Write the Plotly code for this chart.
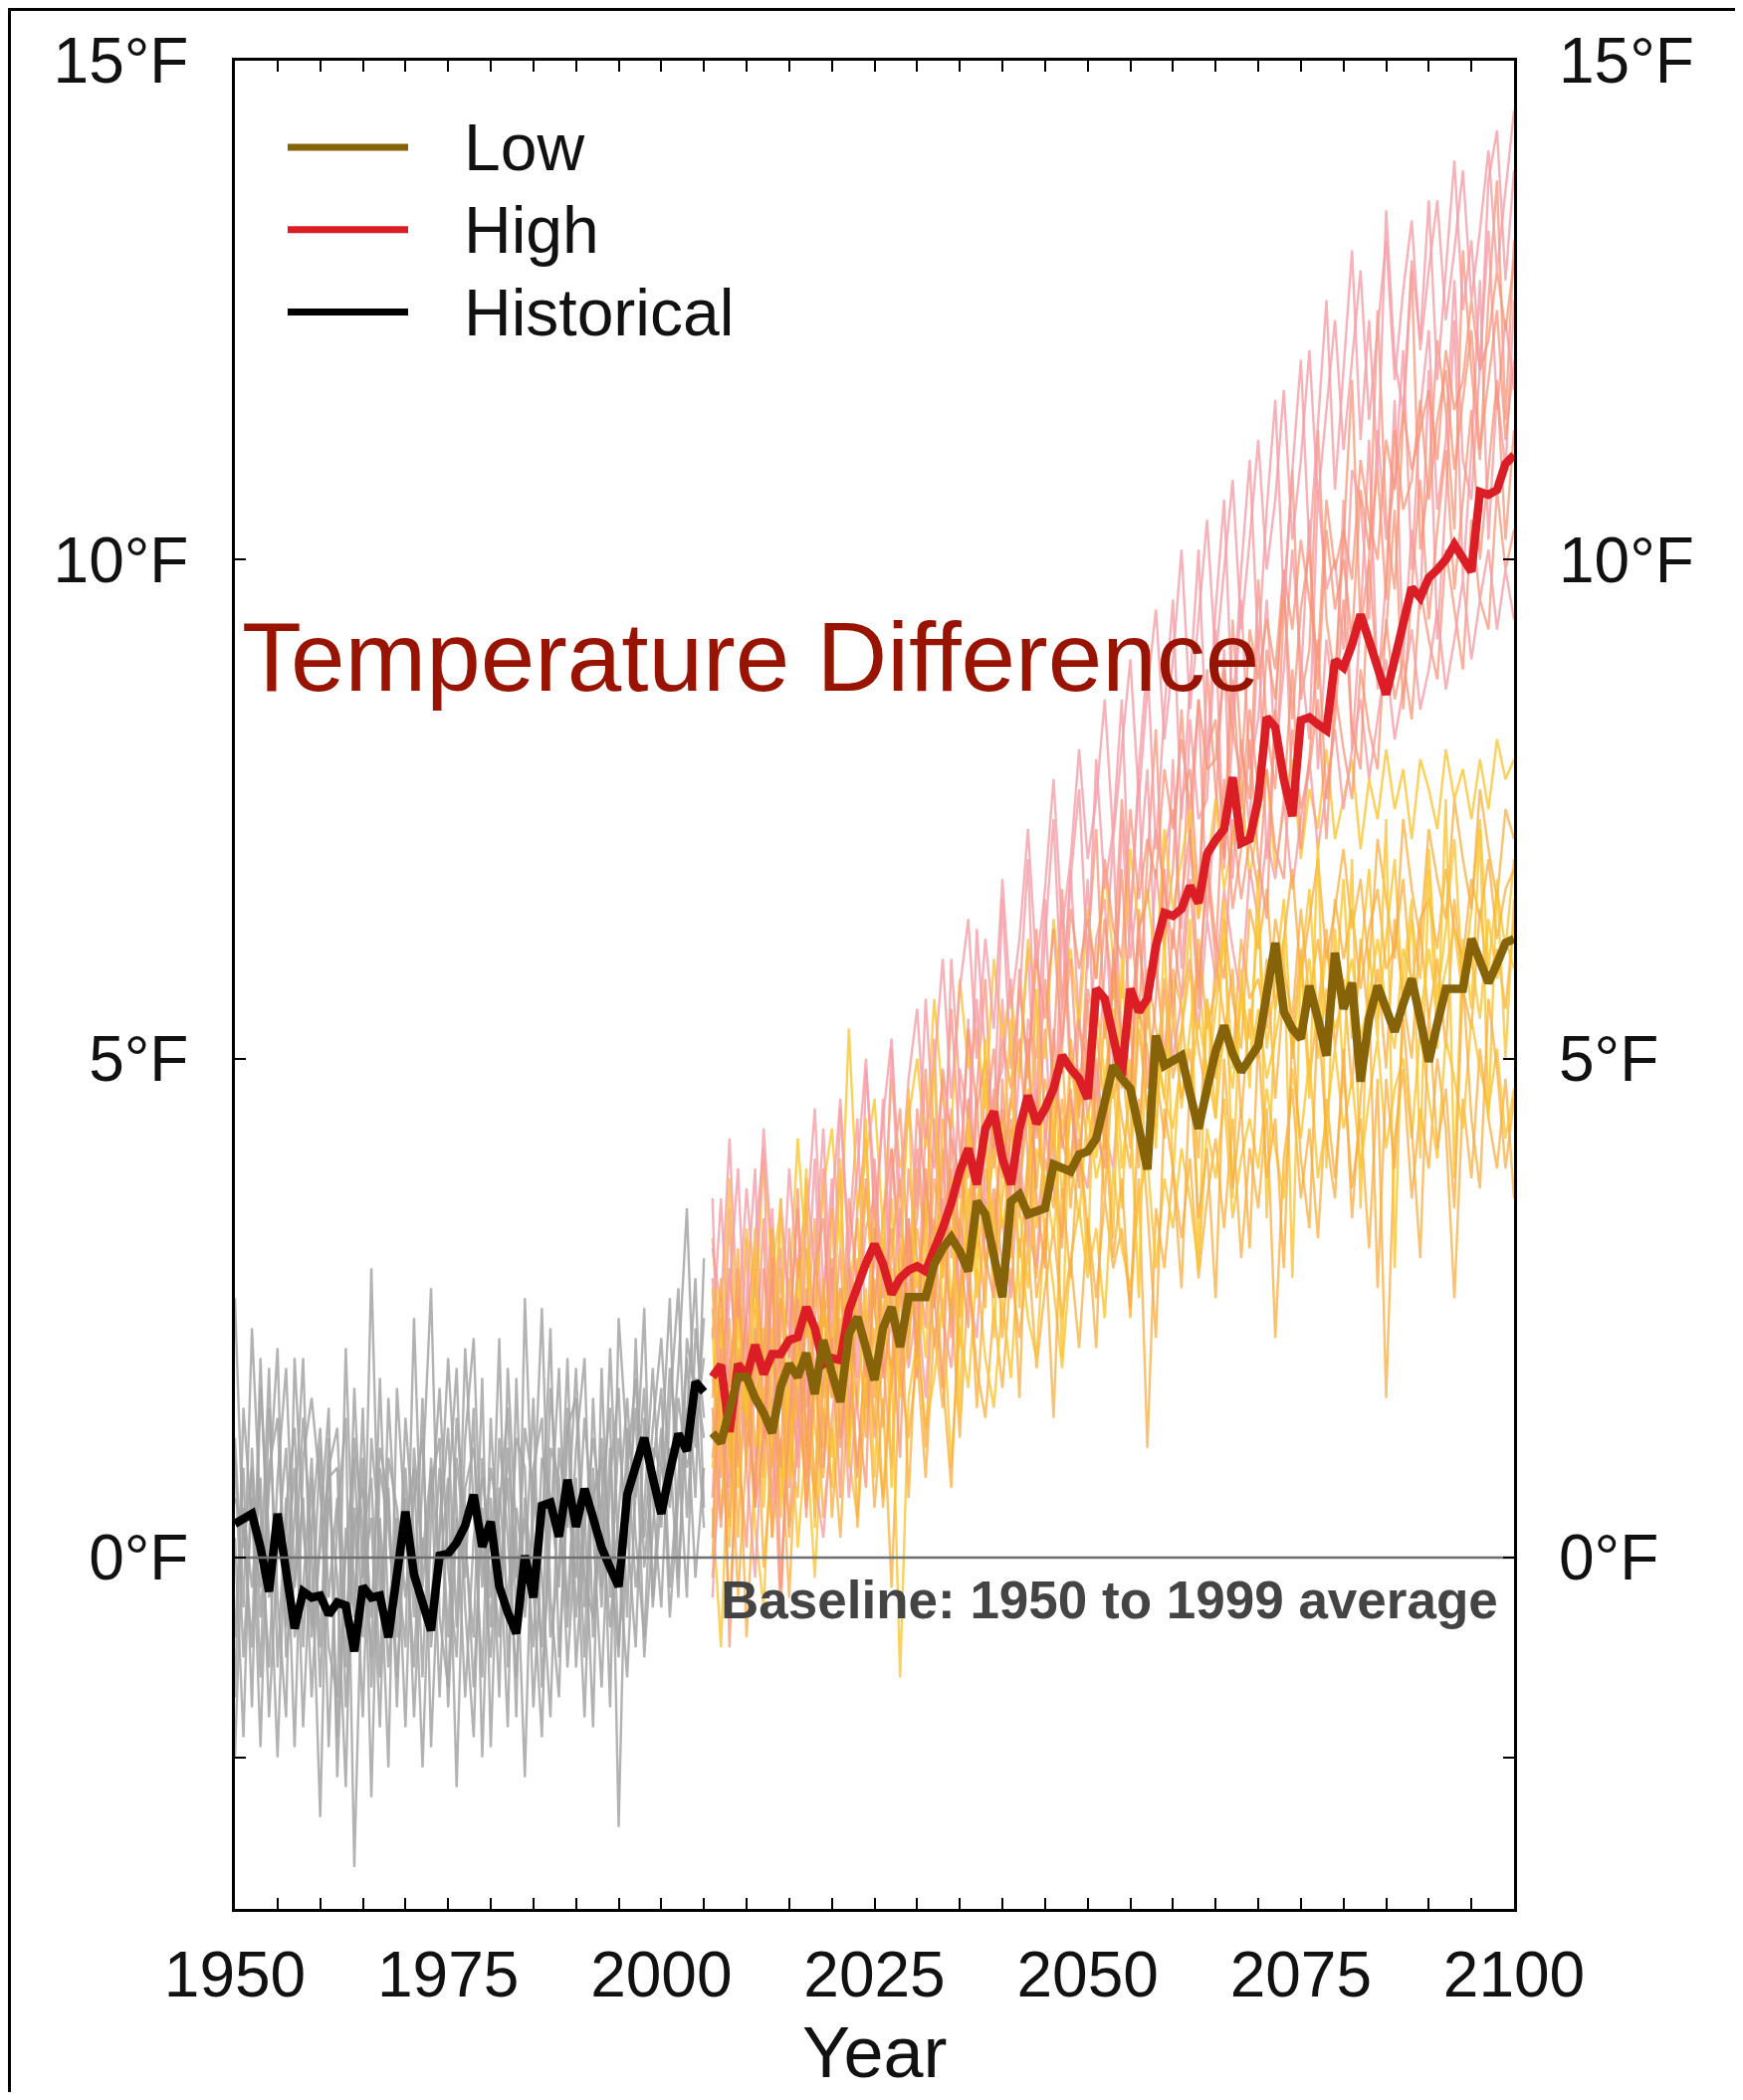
import plotly.graph_objects as go

# ---------------- data ----------------
HIST_YEARS = list(range(1950, 2006))
FUT_YEARS = list(range(2006, 2101))

HISTORICAL = [
    0.34, 0.38, 0.44, 0.10, -0.34, 0.44, -0.15, -0.71, -0.34, -0.40,
    -0.38, -0.57, -0.45, -0.48, -0.94, -0.29, -0.40, -0.38, -0.80, -0.20,
    0.46, -0.17, -0.45, -0.73, 0.02, 0.04, 0.15, 0.32, 0.63, 0.11,
    0.36, -0.29, -0.55, -0.76, 0.02, -0.40, 0.52, 0.55, 0.21, 0.78,
    0.31, 0.69, 0.40, 0.10, -0.10, -0.29, 0.63, 0.95, 1.20, 0.80,
    0.44, 0.86, 1.24, 1.07, 1.76, 1.66,
]

HIGH = [
    1.81, 1.93, 1.26, 1.94,
    1.81, 2.13, 1.84, 2.04, 2.04, 2.18, 2.21, 2.51, 2.30, 1.94,
    2.00, 1.98, 2.48, 2.74, 2.95, 3.14, 2.94, 2.64, 2.80, 2.88,
    2.92, 2.87, 3.07, 3.30, 3.55, 3.87, 4.10, 3.74, 4.30, 4.47,
    4.00, 3.74, 4.30, 4.63, 4.35, 4.50, 4.70, 5.03, 4.90, 4.80,
    4.60, 5.70, 5.60, 5.20, 4.83, 5.70, 5.47, 5.60, 6.13, 6.46,
    6.43, 6.50, 6.73, 6.56, 7.05, 7.19, 7.30, 7.82, 7.16, 7.20,
    7.60, 8.42, 8.32, 7.80, 7.43, 8.39, 8.42, 8.35, 8.29, 8.99,
    8.92, 9.15, 9.45, 9.19, 8.90, 8.65, 9.00, 9.39, 9.72, 9.62,
    9.82, 9.90, 10.00, 10.15, 10.00, 9.88, 10.68, 10.65, 10.70, 10.96,
    11.05,
]

LOW = [
    1.25, 1.15, 1.48, 1.81,
    1.81, 1.60, 1.45, 1.25, 1.71, 1.94, 1.81, 2.05, 1.64, 2.18,
    1.85, 1.56, 2.24, 2.41, 2.10, 1.78, 2.30, 2.51, 2.11, 2.61,
    2.61, 2.61, 2.94, 3.10, 3.21, 3.07, 2.87, 3.57, 3.44, 3.00,
    2.61, 3.57, 3.64, 3.44, 3.48, 3.50, 3.94, 3.90, 3.87, 4.04,
    4.07, 4.20, 4.60, 4.93, 4.80, 4.70, 4.30, 3.89, 5.23, 4.93,
    4.98, 5.03, 4.65, 4.30, 4.70, 5.07, 5.33, 5.05, 4.87, 5.00,
    5.13, 5.65, 6.16, 5.47, 5.30, 5.20, 5.73, 5.40, 5.03, 6.06,
    5.50, 5.76, 4.77, 5.40, 5.73, 5.50, 5.27, 5.55, 5.80, 5.40,
    4.97, 5.35, 5.70, 5.70, 5.70, 6.20, 5.95, 5.76, 5.95, 6.16,
    6.20,
]

HIST_MEMBERS = [
    [1.2, -0.5, 2.3, 0.4, -1.1, 0.8, 1.9, -0.3, 0.6, -1.4,
     0.3, 1.5, -2.2, 0.1, 1.0, -0.8, 2.9, -0.4, 0.7, -1.5,
     0.9, -0.6, 1.6, -1.9, 0.2, 1.3, -0.7, 2.1, 0.5, -1.2,
     1.4, -0.3, 0.8, -1.6, 2.6, 0.1, -0.9, 1.7, 0.4, -0.5,
     1.1, 2.0, -0.8, 0.6, 1.5, -2.7, 0.9, 1.8, 0.2, 1.3,
     2.2, 0.7, 1.9, 3.5, 1.1, 2.4],
    [-0.8, 0.9, -1.5, 1.7, 0.2, -2.0, 0.5, 1.3, -0.9, 0.8,
     -1.3, 0.6, -0.2, -2.3, 1.2, 0.3, -1.0, 1.8, -0.6, 0.4,
     -1.7, 1.1, 0.0, 0.9, -1.4, 0.6, 1.9, -0.5, -1.8, 1.0,
     -0.4, 2.2, -1.1, 0.5, -0.2, 1.6, -1.3, 0.3, 1.9, -0.7,
     0.8, -1.0, 1.6, -0.3, 2.1, 0.0, -1.2, 0.7, 2.5, -0.4,
     1.0, 2.6, -0.2, 1.4, 2.8, 0.5],
    [2.6, 0.1, 0.9, -1.2, 1.5, -0.4, -1.6, 2.0, 0.3, -0.7,
     1.1, -1.9, 0.4, 1.4, -3.1, 0.2, 0.8, -1.2, 1.6, 0.0,
     -0.9, 2.4, -0.3, 0.7, 1.2, -1.5, 0.4, -0.2, 1.5, -2.0,
     0.6, -1.4, 1.9, 0.2, -2.2, 0.9, 1.4, -0.8, -0.1, 2.0,
     -0.6, 0.5, -1.7, 1.9, -0.4, 1.2, 0.3, -0.9, 1.4, 0.6,
     -0.5, 1.5, 2.7, 0.4, 1.8, 1.2],
    [0.2, -1.8, 1.1, -0.6, 0.7, 2.1, -1.0, -0.2, 1.4, 0.1,
     -2.6, 0.9, 1.3, -0.7, 0.5, -1.6, 1.2, 0.2, -2.1, 1.7,
     0.3, -1.1, 0.8, 2.7, -0.6, -1.3, 1.0, 0.1, -0.8, 1.8,
     -1.9, 0.7, -0.5, 1.2, 0.9, -1.5, 0.2, 2.3, -1.0, 0.6,
     -0.2, 1.4, 0.3, -1.3, 0.8, 1.7, -0.6, 2.2, -0.1, 0.9,
     1.7, -0.3, 0.8, 2.0, 0.6, 3.0],
    [-1.4, 1.5, 0.3, -0.3, 1.9, -1.1, 0.6, -1.9, 1.0, 1.6,
     0.7, -0.9, -1.4, 2.1, -0.5, 1.0, -2.4, 0.9, 0.3, -0.8,
     1.4, 0.2, -2.1, 0.4, 1.7, -0.1, -1.0, 1.2, 2.2, -0.3,
     0.9, 0.3, -1.7, 1.8, -0.6, 0.4, 2.5, -0.4, -1.4, 1.3,
     1.6, -0.5, 0.6, 1.0, -1.5, 2.4, 1.1, -0.3, 0.5, 1.9,
     0.3, 1.9, 1.1, -0.4, 2.3, 1.4],
    [0.6, 0.3, -0.9, 2.0, -0.4, 0.4, -0.2, 0.9, -1.7, 0.3,
     1.3, -0.4, 0.6, -1.1, 1.7, -0.2, 0.4, -1.7, 1.0, 0.5,
     -0.4, 0.6, 1.2, -0.9, 0.3, 2.0, 0.5, -1.4, 0.2, 0.8,
     0.2, -0.8, 1.1, -0.2, 0.4, -0.9, 1.0, 0.6, -0.3, 1.5,
     -1.1, 0.3, 1.2, 0.4, -0.7, 0.5, 1.6, 0.2, -0.8, 1.1,
     0.9, 0.5, 1.6, 0.9, 1.3, 2.0],
    [-2.0, 0.5, -0.3, 0.8, -1.6, 0.1, 1.1, -0.8, -0.3, 1.0,
     -0.9, 1.2, -1.8, 0.3, -0.6, 1.5, -1.3, 0.4, -1.1, 0.2,
     0.6, -1.6, 0.2, -0.5, 0.9, -0.8, 1.4, 0.3, -1.3, 0.5,
     -0.7, 1.2, 0.2, -1.2, 0.6, -0.3, -1.8, 1.1, 0.8, -1.1,
     0.3, -1.6, 0.9, -0.5, 1.1, -0.9, 0.4, 1.5, -1.0, 0.3,
     1.3, -0.6, 0.6, 1.5, -0.2, 0.9],
    [1.0, -1.0, 0.6, -1.9, 0.9, 1.4, -0.7, 0.4, 2.0, -0.8,
     0.1, 0.8, 0.9, -1.5, 0.3, 0.7, -0.6, 1.1, 0.6, -1.2,
     0.3, 0.9, -1.2, 1.0, -0.2, 0.8, -2.3, 0.7, 1.1, 0.1,
     -1.0, 0.5, 1.5, -0.6, 1.3, 0.7, -0.2, -1.6, 1.1, 0.3,
     1.9, -0.2, -0.6, 1.2, 0.1, -1.0, 1.3, 0.6, 1.7, -0.5,
     0.6, 1.1, -0.4, 2.2, 1.6, 0.3],
]

HIGH_MEMBERS = [
    [2.8, 1.2, 3.5, 0.9,
     2.6, 3.9, 1.4, 2.2, 3.1, 0.7, 2.9, 3.6, 1.8, 2.5,
     3.8, 1.9, 3.2, 4.4, 2.1, 3.0, 4.6, 2.4, 3.5, 2.2,
     4.1, 3.3, 5.2, 2.8, 4.5, 3.6, 5.4, 3.1, 4.8, 4.0,
     5.6, 3.7, 4.9, 6.1, 4.2, 5.3, 3.9, 6.4, 4.8, 5.5,
     6.8, 4.6, 5.9, 7.2, 5.0, 6.4, 7.8, 5.3, 6.9, 6.1,
     8.0, 5.9, 7.1, 8.6, 6.4, 7.5, 9.1, 6.8, 8.2, 7.3,
     9.3, 7.0, 8.4, 9.9, 7.6, 8.8, 10.4, 7.9, 9.2, 8.5,
     10.6, 8.1, 9.4, 11.2, 8.7, 9.8, 11.6, 9.0, 10.3, 9.5,
     11.9, 9.2, 10.6, 12.4, 9.8, 11.1, 12.8, 10.2, 11.7, 10.9,
     12.6],
    [0.6, 2.4, 1.7, 2.9,
     1.1, 1.8, 3.4, 0.2, 2.6, 2.0, 3.7, 1.5, 2.3, 3.9,
     1.6, 2.7, 2.0, 3.5, 4.2, 2.5, 1.9, 3.8, 4.5, 2.9,
     3.4, 4.9, 2.7, 3.8, 5.5, 4.1, 3.2, 4.7, 5.8, 3.9,
     4.5, 3.6, 5.9, 4.8, 6.3, 4.2, 5.1, 6.7, 5.0, 4.4,
     6.1, 7.3, 5.2, 5.9, 7.6, 6.5, 5.4, 7.0, 8.3, 6.2,
     6.9, 8.5, 7.2, 6.4, 8.9, 7.7, 7.0, 9.4, 8.1, 7.6,
     9.8, 8.3, 7.7, 9.5, 10.9, 8.6, 9.1, 11.3, 9.4, 8.8,
     10.2, 11.8, 9.3, 10.0, 12.5, 10.4, 9.7, 11.4, 12.9, 10.1,
     10.8, 12.2, 11.5, 10.3, 13.1, 11.9, 11.0, 12.6, 13.8, 11.4,
     13.2],
    [2.2, 3.6, 1.9, 1.4,
     3.2, 1.0, 2.1, 3.5, 1.7, 2.8, 1.3, 2.4, 4.0, 2.0,
     2.6, 3.9, 1.4, 2.3, 3.3, 3.6, 2.2, 4.1, 2.7, 3.4,
     2.4, 4.3, 3.9, 4.8, 3.0, 4.9, 4.4, 5.6, 3.5, 4.6,
     4.9, 5.8, 3.4, 5.4, 5.0, 6.6, 4.5, 5.5, 6.9, 5.3,
     5.0, 6.2, 6.6, 4.9, 7.4, 6.0, 6.8, 7.9, 5.8, 7.1,
     7.5, 6.3, 8.4, 7.4, 7.6, 9.3, 6.9, 8.3, 9.6, 7.9,
     8.4, 9.6, 8.0, 8.9, 10.1, 9.0, 8.2, 10.7, 9.7, 10.0,
     9.1, 10.9, 10.6, 9.4, 11.3, 10.2, 10.8, 12.1, 9.9, 11.5,
     12.3, 10.5, 11.2, 12.8, 11.0, 10.6, 12.0, 13.3, 11.5, 12.4,
     11.7],
    [1.5, 0.3, 2.0, 1.1,
     0.1, 2.3, 1.2, 1.6, -0.6, 1.9, 1.0, 2.7, 0.4, 1.8,
     2.9, 1.1, 2.4, 0.8, 2.2, 1.6, 3.1, 1.7, 2.6, 3.3,
     1.8, 3.0, 2.5, 3.6, 2.2, 3.4, 2.8, 4.0, 3.2, 3.7,
     2.9, 4.4, 3.8, 3.1, 4.7, 3.5, 4.9, 4.2, 3.8, 5.4,
     4.4, 5.0, 4.1, 5.9, 5.1, 4.6, 6.2, 5.4, 6.0, 5.0,
     6.3, 5.6, 6.8, 5.5, 7.0, 6.2, 5.8, 7.4, 6.6, 7.2,
     6.7, 7.9, 7.1, 6.8, 8.3, 7.5, 7.9, 8.6, 7.2, 8.7,
     8.1, 7.6, 8.9, 8.3, 7.9, 9.4, 8.6, 9.0, 8.4, 9.7,
     9.2, 8.8, 10.1, 9.5, 8.9, 10.4, 9.6, 9.3, 10.7, 9.9,
     10.3],
    [3.1, 2.5, 4.2, 2.3,
     3.7, 2.6, 4.3, 3.0, 2.2, 3.9, 2.8, 3.3, 4.5, 2.7,
     3.5, 4.6, 3.0, 3.9, 5.0, 3.4, 4.4, 5.2, 3.6, 4.8,
     5.5, 4.2, 4.9, 6.0, 4.6, 5.7, 6.4, 5.0, 6.2, 5.3,
     6.8, 5.5, 6.2, 7.3, 5.9, 6.7, 7.8, 6.3, 7.0, 8.1,
     7.0, 7.6, 8.6, 7.2, 8.1, 9.0, 7.6, 8.7, 9.5, 8.2,
     9.0, 10.1, 8.5, 9.4, 10.4, 9.0, 9.9, 10.8, 9.3, 10.2,
     11.2, 9.9, 10.6, 11.7, 10.2, 11.0, 12.1, 10.6, 11.5, 12.4,
     11.1, 12.0, 12.9, 11.4, 12.3, 13.2, 11.8, 12.7, 13.4, 12.1,
     12.9, 13.6, 12.4, 13.1, 13.9, 12.6, 13.3, 14.1, 12.9, 13.7,
     14.5],
    [1.0, 1.9, 0.4, 2.6,
     1.5, 0.6, 2.9, 2.1, 0.9, 3.3, 1.6, 0.8, 2.9, 3.4,
     2.0, 3.1, 1.2, 2.9, 1.8, 4.0, 2.6, 3.3, 1.9, 3.9,
     3.0, 2.3, 4.4, 3.3, 3.9, 2.6, 4.6, 3.7, 4.3, 5.1,
     3.8, 4.6, 5.2, 4.0, 4.4, 5.8, 4.7, 5.2, 6.0, 4.6,
     5.7, 5.3, 6.4, 5.6, 6.9, 5.3, 6.3, 6.6, 7.3, 6.7,
     6.1, 7.6, 7.9, 6.6, 8.1, 8.4, 7.0, 8.8, 7.5, 8.5,
     7.7, 9.1, 8.6, 9.7, 8.4, 9.5, 10.1, 8.7, 10.3, 9.5,
     10.0, 9.2, 10.7, 10.1, 10.9, 9.6, 11.3, 10.5, 10.8, 11.6,
     10.6, 11.4, 11.9, 10.9, 11.6, 12.3, 11.1, 11.8, 12.5, 11.2,
     12.0],
    [-0.4, 1.3, 0.7, 2.0,
     0.9, -0.2, 1.5, 0.6, 2.0, 0.3, 1.1, 1.9, 0.8, 0.2,
     1.4, 2.2, 0.6, 1.7, 2.5, 1.2, 2.0, 0.9, 2.8, 1.9,
     2.6, 1.6, 3.1, 2.4, 1.9, 3.3, 2.7, 2.2, 3.6, 2.9,
     3.4, 2.6, 4.0, 3.3, 2.9, 4.3, 3.7, 3.2, 4.6, 4.0,
     3.7, 4.8, 4.3, 3.9, 5.2, 4.6, 4.2, 5.5, 4.8, 5.8,
     5.0, 5.6, 6.0, 5.3, 6.4, 5.8, 6.7, 6.1, 5.6, 6.9,
     6.4, 7.2, 6.8, 7.6, 6.7, 7.4, 8.0, 7.1, 7.7, 8.3,
     7.5, 8.1, 8.6, 7.8, 8.4, 9.0, 8.2, 8.7, 9.3, 8.5,
     8.9, 9.5, 8.7, 9.2, 9.8, 9.0, 9.6, 10.1, 9.3, 9.9,
     9.4],
    [2.5, 1.6, 2.9, 1.8,
     2.4, 3.1, 0.8, 2.8, 1.9, 2.2, 3.5, 1.1, 3.0, 2.3,
     3.0, 2.0, 3.6, 2.7, 3.8, 2.5, 3.4, 4.1, 3.1, 2.6,
     4.5, 3.7, 3.2, 4.9, 4.2, 3.8, 5.3, 4.5, 5.0, 4.1,
     5.2, 4.7, 5.7, 4.9, 6.0, 5.4, 6.3, 5.1, 6.5, 5.9,
     6.4, 5.8, 7.0, 6.3, 6.0, 7.5, 6.6, 7.2, 6.8, 7.9,
     7.3, 8.2, 7.5, 8.6, 7.9, 8.0, 8.9, 8.3, 7.8, 9.3,
     8.8, 9.4, 8.9, 9.9, 9.3, 10.2, 9.6, 9.0, 10.6, 9.9,
     10.3, 9.8, 11.0, 10.4, 10.0, 11.2, 10.7, 11.5, 10.9, 11.3,
     11.7, 11.0, 12.1, 11.5, 11.8, 12.6, 11.9, 12.2, 12.9, 12.3,
     13.0],
    [3.6, 0.8, 2.7, 3.9,
     1.9, 3.2, 4.1, 1.2, 3.6, 2.4, 0.9, 3.8, 2.9, 4.3,
     2.3, 4.5, 3.0, 1.8, 4.9, 3.7, 2.6, 5.1, 3.2, 4.6,
     3.5, 5.6, 4.2, 3.1, 6.0, 4.7, 3.8, 6.3, 5.0, 4.4,
     6.6, 4.9, 5.6, 7.0, 4.6, 6.2, 7.4, 5.5, 6.8, 7.7,
     5.9, 8.0, 6.7, 7.3, 8.6, 6.3, 7.9, 9.0, 7.1, 8.5,
     9.6, 7.4, 8.8, 10.1, 8.0, 9.5, 10.6, 8.4, 9.9, 11.0,
     9.1, 10.5, 11.6, 9.6, 10.9, 12.0, 10.1, 11.4, 12.6, 10.7,
     11.9, 13.1, 11.2, 12.4, 10.9, 13.5, 12.0, 11.5, 13.0, 12.2,
     13.6, 11.8, 12.9, 14.0, 12.5, 13.2, 11.9, 13.8, 14.3, 12.8,
     13.9],
    [0.2, 2.1, -0.9, 1.6,
     2.4, 0.5, 1.2, 3.0, -0.3, 1.4, 2.6, 0.4, 1.9, 0.9,
     2.2, 0.6, 2.9, 1.5, 0.7, 3.3, 1.8, 2.4, 1.0, 3.4,
     2.0, 3.9, 2.6, 1.7, 4.2, 3.1, 2.3, 4.6, 3.0, 2.6,
     4.8, 3.3, 4.1, 5.2, 3.6, 2.9, 5.3, 4.1, 4.7, 3.7,
     5.6, 4.3, 3.9, 6.1, 5.2, 4.6, 6.5, 4.7, 5.6, 6.9,
     5.4, 6.6, 7.3, 5.7, 6.9, 6.0, 7.8, 6.5, 7.1, 8.2,
     7.0, 6.4, 8.5, 7.6, 8.9, 7.1, 8.0, 9.2, 7.6, 8.4,
     9.6, 8.3, 7.9, 10.0, 8.8, 9.3, 10.5, 8.5, 9.7, 10.8,
     9.4, 10.3, 11.1, 9.7, 10.6, 11.5, 10.0, 10.9, 11.8, 10.2,
     11.3],
]

LOW_MEMBERS = [
    [2.3, 0.4, 1.8, 2.7,
     0.9, 2.5, 1.3, 3.0, 0.6, 2.1, 2.8, 1.0, 2.4, 1.6,
     2.9, 1.2, 2.6, 3.4, 1.5, 2.8, 1.9, 3.6, 2.2, 3.0,
     2.1, 3.7, 2.9, 4.1, 2.5, 3.4, 4.3, 2.8, 3.9, 3.2,
     4.4, 3.0, 3.8, 4.7, 3.3, 4.1, 5.0, 3.6, 4.5, 3.9,
     5.2, 4.0, 4.8, 5.5, 3.9, 4.7, 5.6, 4.4, 5.1, 4.6,
     5.8, 4.5, 5.3, 6.0, 4.7, 5.5, 6.2, 4.9, 5.7, 5.2,
     6.4, 5.1, 5.8, 6.6, 5.0, 5.9, 6.7, 5.3, 6.1, 5.6,
     6.8, 5.2, 6.0, 6.9, 5.4, 6.2, 7.0, 5.5, 6.4, 5.8,
     7.1, 5.6, 6.3, 7.2, 5.7, 6.5, 7.4, 5.9, 6.7, 6.1,
     7.0],
    [-0.2, 1.1, 0.3, 1.6,
     -0.8, 0.9, 1.7, 0.2, 1.2, -0.4, 1.5, 0.7, 1.9, 0.4,
     1.3, 0.2, 1.8, 0.9, 2.1, 0.5, 1.6, -0.3, 1.9, 1.2,
     2.0, 0.8, 2.3, 1.5, 2.6, 1.2, 2.8, 1.9, 1.4, 2.5,
     1.7, 2.9, 2.2, 3.1, 1.9, 2.7, 3.3, 2.4, 3.0, 2.1,
     3.4, 2.6, 3.6, 2.9, 3.3, 2.5, 3.8, 1.1, 3.5, 2.9,
     3.9, 3.2, 4.0, 2.8, 3.6, 4.2, 3.3, 4.4, 3.0, 4.1,
     3.5, 4.5, 2.2, 4.0, 4.7, 3.6, 4.3, 3.2, 4.6, 3.8,
     4.9, 3.7, 4.4, 3.1, 4.8, 1.6, 4.2, 4.9, 3.6, 4.5,
     3.9, 5.0, 4.3, 2.6, 4.6, 3.8, 5.1, 4.4, 3.9, 4.8,
     3.6],
    [3.2, 2.0, 3.8, 1.7,
     3.3, 2.4, 4.0, 2.9, 3.5, 2.6, 4.2, 3.0, 2.5, 3.7,
     4.3, 3.1, 5.3, 3.5, 4.0, 4.6, 3.3, 4.8, 3.9, 4.4,
     5.0, 4.1, 5.6, 4.6, 4.3, 5.8, 4.9, 5.3, 4.5, 6.0,
     5.2, 5.7, 4.8, 6.2, 5.5, 5.0, 6.4, 5.6, 6.1, 5.3,
     6.5, 5.8, 6.9, 6.0, 5.6, 7.1, 6.3, 6.7, 5.9, 7.3,
     6.5, 7.0, 7.5, 6.4, 6.9, 7.6, 6.7, 7.2, 7.8, 6.8,
     7.4, 7.9, 6.9, 7.5, 8.0, 7.0, 7.7, 7.3, 8.1, 7.2,
     7.6, 8.0, 7.1, 7.8, 7.4, 8.1, 7.5, 7.9, 7.2, 8.0,
     7.7, 7.3, 8.1, 7.6, 7.9, 7.4, 8.0, 7.5, 8.2, 7.8,
     8.0],
    [1.2, 2.6, 0.8, 2.1,
     1.7, 0.5, 2.3, 1.4, 2.9, 1.1, 0.6, 2.5, 1.8, 2.7,
     1.6, 2.4, 1.1, 3.0, 2.0, 1.3, 3.2, 2.5, 1.7, 3.3,
     2.7, 3.5, 2.1, 3.0, 3.8, 2.4, 3.6, 4.0, 2.9, 3.4,
     4.2, 3.2, 3.7, 4.5, 2.8, 4.0, 3.5, 4.6, 3.8, 4.9,
     4.1, 4.7, 3.6, 5.0, 4.4, 3.9, 5.3, 4.5, 4.9, 4.2,
     5.4, 4.6, 5.1, 4.0, 5.6, 4.8, 5.2, 5.9, 4.4, 5.5,
     5.0, 6.0, 4.6, 5.7, 5.2, 6.1, 4.8, 5.5, 6.3, 5.1,
     5.8, 4.7, 6.2, 5.3, 5.9, 4.9, 6.4, 5.6, 5.0, 6.3,
     5.4, 6.0, 5.1, 6.6, 5.7, 5.3, 6.5, 5.8, 6.1, 5.5,
     6.4],
    [0.5, -0.9, 1.4, 0.7,
     1.8, 0.3, -0.5, 1.4, 0.8, 1.7, 0.1, 1.2, -0.2, 1.5,
     0.7, 1.9, 1.0, 0.4, 2.2, 1.4, 0.6, 2.0, -1.2, 1.6,
     2.2, 1.3, 1.8, 2.6, 0.9, 2.3, 1.7, 2.9, 2.0, 1.5,
     2.6, 1.8, 3.2, 2.4, 2.0, 3.4, 2.7, 1.9, 3.0, 3.5,
     2.8, 3.3, 2.4, 3.9, 3.1, 2.7, 3.6, 4.0, 2.9, 3.8,
     3.3, 4.1, 3.6, 2.9, 4.3, 3.8, 4.6, 3.4, 4.0, 4.4,
     3.9, 4.7, 4.1, 3.6, 4.9, 4.2, 5.0, 3.8, 4.4, 5.1,
     4.3, 4.8, 3.9, 4.6, 5.2, 4.1, 4.7, 5.0, 4.2, 5.3,
     4.6, 4.0, 5.2, 4.8, 4.3, 5.4, 4.9, 4.5, 5.1, 4.2,
     4.7],
    [1.8, 1.3, 2.4, 0.2,
     2.2, 1.6, 2.0, 0.9, 2.6, 2.3, 1.4, 3.1, 1.3, 0.8,
     2.3, 2.7, 1.8, 2.5, 1.2, 3.5, 2.3, 1.9, 3.1, 2.4,
     3.3, 2.6, 3.8, 3.2, 2.4, 4.0, 3.1, 3.5, 4.2, 2.7,
     3.6, 4.3, 3.0, 4.0, 4.4, 3.7, 4.2, 5.1, 3.5, 4.6,
     4.9, 4.3, 5.4, 4.6, 5.0, 4.1, 5.5, 5.1, 4.3, 5.7,
     4.8, 5.3, 5.9, 5.1, 4.6, 6.0, 5.4, 5.0, 6.2, 5.6,
     5.8, 5.3, 6.4, 5.9, 5.4, 6.5, 5.6, 6.2, 5.4, 6.6,
     6.0, 6.5, 5.7, 6.3, 6.7, 5.9, 6.1, 6.8, 5.7, 6.4,
     6.6, 6.1, 6.9, 6.3, 6.0, 6.8, 6.4, 7.0, 6.2, 6.7,
     6.9],
    [0.9, 1.7, -0.6, 1.3,
     2.0, 1.1, 1.6, 2.3, 0.4, 1.5, 2.2, 0.5, 1.7, 2.1,
     1.0, 2.6, 2.1, 1.5, 2.7, 0.8, 2.5, 2.9, 1.6, 2.2,
     3.0, 2.0, 3.4, 2.8, 3.3, 2.1, 3.7, 2.6, 3.3, 4.1,
     3.3, 3.9, 3.5, 2.7, 4.1, 3.8, 3.2, 4.4, 4.0, 3.4,
     4.5, 3.8, 4.2, 4.8, 3.5, 5.0, 4.3, 3.9, 5.2, 4.6,
     4.3, 5.0, 4.7, 5.4, 4.9, 4.4, 5.3, 4.7, 5.6, 4.9,
     5.5, 4.8, 5.2, 5.7, 5.1, 5.4, 6.0, 5.0, 5.7, 5.3,
     5.6, 6.0, 5.2, 5.6, 6.2, 5.5, 5.1, 6.1, 5.8, 5.4,
     6.1, 5.5, 5.9, 6.3, 5.6, 6.0, 5.4, 6.4, 5.8, 6.2,
     5.9],
    [1.6, 2.8, 1.0, 3.1,
     1.3, 2.9, 1.9, 3.3, 2.1, 1.0, 3.0, 2.2, 3.4, 1.1,
     3.5, 1.7, 3.0, 2.3, 3.7, 2.6, 1.3, 3.1, 3.8, 2.0,
     3.9, 3.1, 2.5, 4.4, 3.6, 3.2, 4.5, 3.4, 2.5, 4.7,
     3.9, 4.6, 4.1, 5.0, 3.7, 4.8, 4.3, 3.1, 5.2, 4.5,
     4.8, 5.3, 4.5, 5.8, 4.7, 5.4, 3.9, 5.9, 5.3, 4.9,
     5.9, 5.5, 4.5, 6.2, 5.3, 5.7, 6.4, 5.6, 5.1, 6.5,
     6.1, 6.7, 5.5, 6.2, 6.9, 5.8, 6.4, 7.0, 6.0, 6.5,
     7.1, 6.3, 6.8, 5.9, 7.2, 6.6, 6.0, 7.4, 6.7, 6.2,
     7.3, 6.8, 6.4, 7.6, 7.0, 6.5, 7.7, 7.1, 6.6, 7.5,
     7.2],
    [2.7, 1.0, 0.1, 2.4,
     1.4, 3.3, 0.5, 1.9, 3.6, 0.8, 2.0, 3.9, 0.3, 2.6,
     1.8, 4.0, 0.9, 2.7, 4.4, 1.6, 3.5, 0.7, 2.8, 4.7,
     1.9, 3.2, 5.0, 2.3, 3.8, 1.4, 4.4, 3.0, 5.2, 2.2,
     4.0, 5.4, 2.5, 3.7, 5.7, 3.0, 4.6, 2.0, 5.0, 4.3,
     2.9, 5.6, 4.8, 3.2, 6.0, 4.5, 2.6, 5.8, 4.1, 6.3,
     3.8, 5.2, 6.4, 2.9, 5.6, 4.4, 6.6, 3.6, 5.9, 4.7,
     6.9, 3.4, 5.5, 6.2, 2.8, 6.0, 4.6, 7.2, 3.9, 6.3,
     4.8, 7.0, 3.5, 6.1, 5.2, 7.4, 2.9, 5.8, 6.6, 4.0,
     6.9, 5.1, 7.6, 3.8, 6.2, 5.5, 7.3, 4.4, 6.8, 5.0,
     6.6],
    [0.0, 2.0, 1.5, -0.4,
     1.1, 2.2, -0.1, 1.0, 1.9, 0.2, 2.4, 1.3, 0.6, 2.8,
     0.4, 1.5, 2.6, 0.3, 1.7, 2.3, 0.5, 1.8, 2.9, 0.6,
     2.4, 1.1, 3.0, 1.8, 0.7, 2.7, 3.2, 1.5, 2.9, 3.6,
     2.2, 3.4, 1.6, 4.0, 2.6, 3.2, 1.4, 3.7, 2.8, 4.2,
     3.3, 2.1, 4.4, 3.0, 3.8, 2.4, 4.6, 3.5, 2.2, 4.5,
     3.9, 2.7, 4.8, 3.4, 4.1, 2.6, 5.0, 3.7, 4.5, 3.1,
     5.2, 3.8, 4.4, 2.9, 5.3, 4.0, 3.3, 5.5, 4.2, 3.6,
     5.1, 3.4, 4.6, 5.6, 2.7, 4.8, 3.9, 5.4, 4.3, 3.0,
     5.5, 4.1, 4.7, 3.5, 5.8, 4.4, 3.7, 5.6, 4.9, 3.9,
     4.6],
]

X_TICKS = [1950, 1975, 2000, 2025, 2050, 2075, 2100]
X_TICK_TEXT = ["1950", "1975", "2000", "2025", "2050", "2075", "2100"]
Y_TICKS = [-2, 0, 5, 10, 15]
Y_TICK_TEXT = ["", "0°F", "5°F", "10°F", "15°F"]
LEGEND_LABELS = ["Low", "High", "Historical"]

for m in HIST_MEMBERS:
    assert len(m) == len(HIST_YEARS), len(m)
for m in HIGH_MEMBERS + LOW_MEMBERS:
    assert len(m) == len(FUT_YEARS), len(m)
assert len(HISTORICAL) == len(HIST_YEARS)
assert len(HIGH) == len(FUT_YEARS) and len(LOW) == len(FUT_YEARS)

# ---------------- style ----------------
FONT = "Liberation Sans, Arial, Helvetica, sans-serif"
C_LOW = "#866308"
C_HIGH = "#db1e26"
C_HIST = "#000000"
C_GRAY = "rgba(165,165,165,0.85)"
HIGH_COLS = ["rgba(245,158,168,0.80)", "rgba(247,148,118,0.75)"]
LOW_COLS = ["rgba(250,196,50,0.80)", "rgba(248,172,62,0.75)"]
Y_RANGE = [-3.52, 15]
MEAN_W = 8.5
MEMBER_W = 2.4

fig = go.Figure()

for m in HIST_MEMBERS:
    fig.add_trace(go.Scatter(x=HIST_YEARS, y=m, mode="lines",
                             line=dict(color=C_GRAY, width=MEMBER_W),
                             hoverinfo="skip", showlegend=False))

for i in range(len(HIGH_MEMBERS)):
    fig.add_trace(go.Scatter(x=FUT_YEARS, y=HIGH_MEMBERS[i], mode="lines",
                             line=dict(color=HIGH_COLS[i % 2], width=MEMBER_W),
                             hoverinfo="skip", showlegend=False))
    fig.add_trace(go.Scatter(x=FUT_YEARS, y=LOW_MEMBERS[i], mode="lines",
                             line=dict(color=LOW_COLS[i % 2], width=MEMBER_W),
                             hoverinfo="skip", showlegend=False))

# baseline (0 °F) drawn on the right-hand y axis (same range)
fig.add_trace(go.Scatter(x=[X_TICKS[0], X_TICKS[-1]], y=[0, 0], mode="lines",
                         yaxis="y2", line=dict(color="#6f6f6f", width=2.5),
                         hoverinfo="skip", showlegend=False))

fig.add_trace(go.Scatter(x=HIST_YEARS, y=HISTORICAL, mode="lines", name="Historical",
                         line=dict(color=C_HIST, width=MEAN_W), showlegend=False))
fig.add_trace(go.Scatter(x=FUT_YEARS, y=HIGH, mode="lines", name="High",
                         line=dict(color=C_HIGH, width=MEAN_W), showlegend=False))
fig.add_trace(go.Scatter(x=FUT_YEARS, y=LOW, mode="lines", name="Low",
                         line=dict(color=C_LOW, width=MEAN_W), showlegend=False))

tickfont = dict(family=FONT, size=64, color="#111111")

# page body has an 8px margin; the plot area is placed to match the reference
fig.update_layout(
    width=1735, height=2094,
    margin=dict(l=228, r=222, t=53, b=184),
    plot_bgcolor="white", paper_bgcolor="white",
    showlegend=False,
    font=dict(family=FONT, color="#111111"),
    xaxis=dict(range=[X_TICKS[0], X_TICKS[-1]], tickmode="array",
               tickvals=X_TICKS, ticktext=X_TICK_TEXT,
               ticks="inside", ticklen=11, tickwidth=2, tickcolor="black",
               minor=dict(dtick=5, tick0=1950, ticks="inside", ticklen=11,
                          tickwidth=2, tickcolor="black", showgrid=False),
               showline=True, linecolor="black", linewidth=2.5, mirror="ticks",
               showgrid=False, zeroline=False, tickfont=tickfont,
               ticklabelstandoff=8),
    yaxis=dict(range=Y_RANGE, tickmode="array", tickvals=Y_TICKS, ticktext=Y_TICK_TEXT,
               ticks="inside", ticklen=11, tickwidth=2, tickcolor="black",
               showline=True, linecolor="black", linewidth=2.5, mirror="ticks",
               showgrid=False, zeroline=False, tickfont=tickfont,
               ticklabelstandoff=31),
    yaxis2=dict(range=Y_RANGE, overlaying="y", side="right", tickmode="array",
                tickvals=Y_TICKS, ticktext=Y_TICK_TEXT, ticks="",
                showline=False, showgrid=False, zeroline=False,
                tickfont=tickfont, ticklabelstandoff=44),
)

# legend (drawn manually to get the long line samples)
LEG_COLORS = [C_LOW, C_HIGH, C_HIST]
for i, (lab, col) in enumerate(zip(LEGEND_LABELS, LEG_COLORS)):
    yy = 0.9532 - i * 0.0446
    fig.add_shape(type="line", xref="paper", yref="paper",
                  x0=0.0412, x1=0.1354, y0=yy, y1=yy,
                  line=dict(color=col, width=7))
    fig.add_annotation(xref="paper", yref="paper", x=0.1774, y=yy,
                       text=lab, showarrow=False, xanchor="left", yanchor="middle",
                       font=dict(family=FONT, size=66, color="#111111"))

fig.add_annotation(xref="paper", yref="paper", x=0.004, y=0.6777,
                   text="Temperature Difference", showarrow=False,
                   xanchor="left", yanchor="middle",
                   font=dict(family=FONT, size=98, color="#981300"))

fig.add_annotation(xref="paper", yref="paper", x=0.989, y=0.167,
                   text="<b>Baseline: 1950 to 1999 average</b>", showarrow=False,
                   xanchor="right", yanchor="middle",
                   font=dict(family=FONT, size=53, color="#444444"))

fig.add_annotation(xref="paper", yref="paper", x=0.5, y=-0.0775,
                   text="Year", showarrow=False, xanchor="center", yanchor="middle",
                   font=dict(family=FONT, size=72, color="#111111"))

# thin dark frame along the top and left edges of the original screenshot
fig.add_shape(type="rect", xref="paper", yref="paper",
              x0=-0.18, x1=1.2, y0=1.0269, y1=1.03,
              line=dict(width=0), fillcolor="black", layer="above")
fig.add_shape(type="rect", xref="paper", yref="paper",
              x0=-0.18, x1=-0.1751, y0=-0.11, y1=1.03,
              line=dict(width=0), fillcolor="black", layer="above")

fig.write_html("out.html")
